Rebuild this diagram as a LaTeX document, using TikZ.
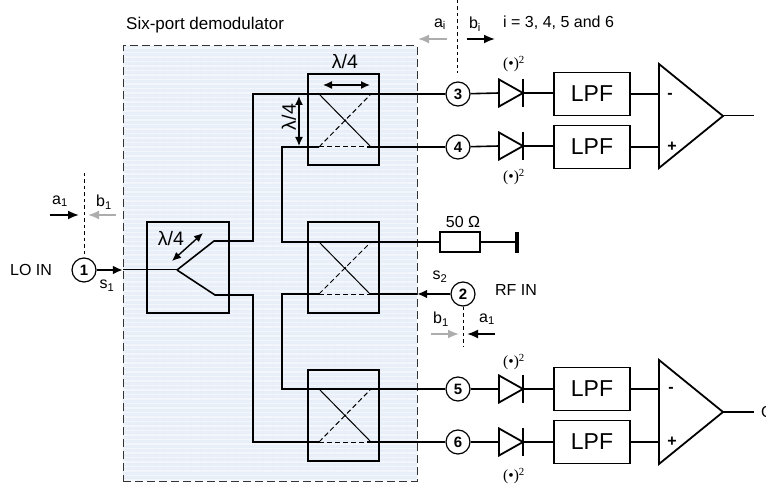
\documentclass[tikz,border=0pt]{standalone}
\usepackage{fontspec}
\setmainfont{Liberation Sans}
\newfontfamily\powerfont{Liberation Serif}
\usetikzlibrary{shapes, shapes.geometric, arrows, arrows.meta, patterns.meta}
\definecolor{demodblue}{HTML}{E8EFF8}
\definecolor{demodstripe}{HTML}{F3F6FB}
\definecolor{wavegray}{gray}{0.68}
\tikzstyle{demod} = [rectangle, minimum width=294pt, minimum height=435pt, inner sep=0pt]
\tikzstyle{coupler} = [rectangle, draw, line width=2.4pt, minimum width=71pt, minimum height=91pt, inner sep=0pt]
\tikzstyle{hybrid} = [rectangle, draw, line width=2.4pt, minimum width=82pt, minimum height=91pt, inner sep=0pt]
\tikzstyle{port} = [circle, draw, fill=white, line width=1.2pt, minimum size=24pt, inner sep=0pt, font=\fontsize{15}{15}\selectfont\bfseries]
\tikzstyle{lpf} = [rectangle, draw, line width=1.8pt, minimum width=76pt, minimum height=43pt, inner sep=0pt, font=\fontsize{23}{23}\selectfont]
\tikzstyle{diode} = [isosceles triangle, draw, line width=1.8pt, isosceles triangle stretches, minimum height=24pt, minimum width=27pt, inner sep=0pt, outer sep=0pt, anchor=lower side]
\tikzstyle{amp} = [isosceles triangle, draw, line width=1.8pt, isosceles triangle stretches, minimum height=64pt, minimum width=104pt, inner sep=0pt, outer sep=0pt, anchor=lower side]
\tikzstyle{load} = [rectangle, draw, line width=1.8pt, minimum width=40pt, minimum height=20pt, inner sep=0pt]
\tikzstyle{dot} = [circle, fill, minimum size=2.5pt, inner sep=0pt]
\tikzstyle{label} = [inner sep=0pt, font=\fontsize{16}{18}\selectfont]
\tikzstyle{power} = [inner sep=0pt, font=\fontsize{15.5}{17}\powerfont]
\tikzstyle{signal} = [draw, line width=1.6pt]
\tikzstyle{thinline} = [draw, line width=1pt]
\tikzstyle{inner} = [draw, line width=1pt, dash pattern=on 5pt off 3pt]
\tikzstyle{feed} = [draw, -{Latex[length=10pt, width=9pt]}, line width=2pt]
\tikzstyle{wave} = [draw, -{Latex[length=11pt, width=9pt]}, line width=1.8pt]
\tikzstyle{grayw} = [draw, -{Latex[length=11pt, width=9pt]}, line width=1.8pt, wavegray]
\tikzstyle{span} = [draw, {Latex[length=9pt, width=8pt]}-{Latex[length=9pt, width=8pt]}, line width=1.4pt]
\tikzstyle{plane} = [draw, line width=0.9pt, dash pattern=on 3.5pt off 3pt]
\tikzstyle{bar} = [draw, line width=2.5pt]
\begin{document}
\begin{tikzpicture}[x=1pt, y=-1pt, node distance=53pt]
    \useasboundingbox (0,0) rectangle (766,489);
    % Demodulator box
    \node [demod, fill=demodblue, postaction={pattern={Lines[angle=0, distance=4.5pt, line width=1.4pt]}, pattern color=demodstripe}] (demod) at (270,263.5) {};
    \node [demod, draw=black!80, line width=1pt, dash pattern=on 8pt off 4pt] (demodframe) at (270,263.5) {};
    % Nodes
    \node [coupler] (coupa) at (343.5,119.5) {};
    \node [coupler] (coupb) at (343.5,267.5) {};
    \node [coupler] (coupc) at (343.5,415.5) {};
    \node [hybrid] (hyb) at (188,267.5) {};
    \node [port] (port1) at (84,270) {1};
    \node [port] (port2) at (463,294) {2};
    \node [port] (port3) at (458,94) {3};
    \node [port, below of=port3] (port4) {4};
    \node [port] (port5) at (458,389) {5};
    \node [port, below of=port5] (port6) {6};
    \node [load] (res) at (460,242) {};
    \coordinate (termup) at (517,232);
    \coordinate (termdown) at (517,253);
    \node [lpf, right of=port3, node distance=134pt] (lpf3) {LPF};
    \node [lpf, right of=port4, node distance=134pt] (lpf4) {LPF};
    \node [lpf, right of=port5, node distance=134pt] (lpf5) {LPF};
    \node [lpf, right of=port6, node distance=134pt] (lpf6) {LPF};
    \node [diode] (diode3) at (499,93) {};
    \node [diode] (diode4) at (499,146) {};
    \node [diode] (diode5) at (499,389) {};
    \node [diode] (diode6) at (499,442) {};
    \node [amp] (ampi) at (659,116) {};
    \node [amp] (ampq) at (659,412) {};
    \coordinate (outi) at (754,116);
    \coordinate (outq) at (754,412);
    % Coupler and hybrid corners
    \coordinate (hybapex) at (177,270);
    \coordinate (hybup) at (214,241);
    \coordinate (hybdown) at (215,295);
    \coordinate (busa) at (253,94);
    \coordinate (busb) at (253,442);
    \coordinate (busc) at (282,242);
    \coordinate (busd) at (282,389);
    \coordinate (aleft) at (319,94);
    \coordinate (aright) at (371,94);
    \coordinate (alow) at (319,147);
    \coordinate (alowr) at (367,147);
    \coordinate (bleft) at (319,242);
    \coordinate (bright) at (371,242);
    \coordinate (blow) at (319,294);
    \coordinate (blowr) at (370,294);
    \coordinate (cleft) at (319,389);
    \coordinate (cright) at (371,389);
    \coordinate (clow) at (319,442);
    \coordinate (clowr) at (367,442);
    \node [dot] (dota) at (345,120.5) {};
    \node [dot] (dotb) at (345,268) {};
    \node [dot] (dotc) at (345,415.5) {};
    % Edges
    \path [feed] (port1) -- (port1 -| demod.west);
    \path [thinline] (port1 -| demod.west) -- (hybapex);
    \path [signal] (hybapex) -- (hybup) -| (busa) -- (port3);
    \path [signal] (hybapex) -- (hybdown) -| (busb) -- (clow);
    \path [signal] (alow) -| (busc) -- (res);
    \path [signal] (blow) -| (busd) -- (port5);
    \path [signal] (alowr) -- (port4);
    \path [signal] (clowr) -- (port6);
    \path [feed] (port2) -- (port2 -| demod.east);
    \path [signal] (port2 -| demod.east) -- (blowr);
    \path [thinline] (aleft) -- (alow -| aright);
    \path [thinline] (bleft) -- (blowr);
    \path [thinline] (cleft) -- (clow -| cright);
    \path [inner] (alow) -- (aright);
    \path [inner] (alow) -- (alowr);
    \path [inner] (blow) -- (bright);
    \path [inner] (blow) -- (blowr);
    \path [inner] (clow) -- (cright);
    \path [inner] (clow) -- (clowr);
    \path [signal] (port3) -- (diode3.lower side);
    \path [signal] (port4) -- (diode4.lower side);
    \path [signal] (port5) -- (diode5.lower side);
    \path [signal] (port6) -- (diode6.lower side);
    \path [signal] (diode3.apex) -- (lpf3.west |- diode3.apex);
    \path [signal] (diode4.apex) -- (lpf4.west |- diode4.apex);
    \path [signal] (diode5.apex) -- (lpf5.west |- diode5.apex);
    \path [signal] (diode6.apex) -- (lpf6.west |- diode6.apex);
    \path [bar] ([yshift=14pt]diode3.apex) -- ([yshift=-14pt]diode3.apex);
    \path [bar] ([yshift=14pt]diode4.apex) -- ([yshift=-14pt]diode4.apex);
    \path [bar] ([yshift=14pt]diode5.apex) -- ([yshift=-14pt]diode5.apex);
    \path [bar] ([yshift=14pt]diode6.apex) -- ([yshift=-14pt]diode6.apex);
    \path [signal] (lpf3.east) -- (lpf3.east -| ampi.lower side);
    \path [signal] (lpf4.east) -- (lpf4.east -| ampi.lower side);
    \path [signal] (lpf5.east) -- (lpf5.east -| ampq.lower side);
    \path [signal] (lpf6.east) -- (lpf6.east -| ampq.lower side);
    \path [thinline] (ampi.apex) -- (outi);
    \path [signal] (ampq.apex) -- (outq);
    \path [signal] (res) -- (res -| termup);
    \path [draw, line width=4pt] (termup) -- (termdown);
    % Wave arrows
    \coordinate (planeitop) at (457,0);
    \coordinate (planeibot) at (457,73);
    \coordinate (planeatop) at (84,173);
    \coordinate (planebbot) at (463,346);
    \path [plane] (planeitop) -- (planeibot);
    \path [plane] (planeatop) -- (port1);
    \path [plane] (port2) -- (planebbot);
    \coordinate (aifrom) at (447,39);
    \coordinate (aito) at (418,39);
    \coordinate (bifrom) at (467,39);
    \coordinate (bito) at (495,39);
    \coordinate (aafrom) at (50,215);
    \coordinate (aato) at (79,215);
    \coordinate (bafrom) at (116,215);
    \coordinate (bato) at (88,215);
    \coordinate (abfrom) at (431,334);
    \coordinate (abto) at (459,334);
    \coordinate (bbfrom) at (495,334);
    \coordinate (bbto) at (467,334);
    \path [grayw] (aifrom) -- (aito);
    \path [wave] (bifrom) -- (bito);
    \path [wave] (aafrom) -- (aato);
    \path [grayw] (bafrom) -- (bato);
    \path [grayw] (abfrom) -- (abto);
    \path [wave] (bbfrom) -- (bbto);
    % Lambda spans
    \coordinate (spanaa) at (323,85);
    \coordinate (spanab) at (370,85);
    \coordinate (spanba) at (299,96);
    \coordinate (spanbb) at (299,146);
    \coordinate (spanca) at (172,261);
    \coordinate (spancb) at (203,233);
    \path [span] (spanaa) -- (spanab);
    \path [span] (spanba) -- (spanbb);
    \path [span] (spanca) -- (spancb);
    % Labels
    \node [label, anchor=west, font=\fontsize{17}{19}\selectfont] (title) at (126,25) {Six-port demodulator};
    \node [label, anchor=west] (ilist) at (503,23) {i = 3, 4, 5 and 6};
    \node [label, font=\fontsize{19.5}{20}\selectfont] (lamh) at (345,62) {λ/4};
    \node [label, rotate=90, font=\fontsize{19.5}{20}\selectfont] (lamv) at (289,117) {λ/4};
    \node [label, font=\fontsize{19.5}{20}\selectfont] (lamc) at (171,239) {λ/4};
    \node [label] (ai) at (440,24) {a\textsubscript{i}};
    \node [label] (bi) at (475,24) {b\textsubscript{i}};
    \node [label] (a1) at (60,201) {a\textsubscript{1}};
    \node [label] (b1) at (104,202) {b\textsubscript{1}};
    \node [label] (s1) at (107,286) {s\textsubscript{1}};
    \node [label] (s2) at (440,277) {s\textsubscript{2}};
    \node [label] (b1r) at (441,319) {b\textsubscript{1}};
    \node [label] (a1r) at (487,319) {a\textsubscript{1}};
    \node [label] (loin) at (31,270) {LO IN};
    \node [label] (rfin) at (516,290) {RF IN};
    \node [label] (ohm) at (463,222) {50 Ω};
    \node [power] (pow3) at (514,64) {(\textbullet)\textsuperscript{2}};
    \node [power] (pow4) at (514,177) {(\textbullet)\textsuperscript{2}};
    \node [power] (pow5) at (514,362) {(\textbullet)\textsuperscript{2}};
    \node [power] (pow6) at (514,476) {(\textbullet)\textsuperscript{2}};
    \node [label] (minusi) at (670,96) {\bfseries -};
    \node [label] (plusi) at (672,147) {\bfseries +};
    \node [label] (minusq) at (671,390) {\bfseries -};
    \node [label] (plusq) at (672,442) {\bfseries +};
    \node [label, anchor=west] (outlabel) at (761,412) {O};
\end{tikzpicture}
\end{document}
